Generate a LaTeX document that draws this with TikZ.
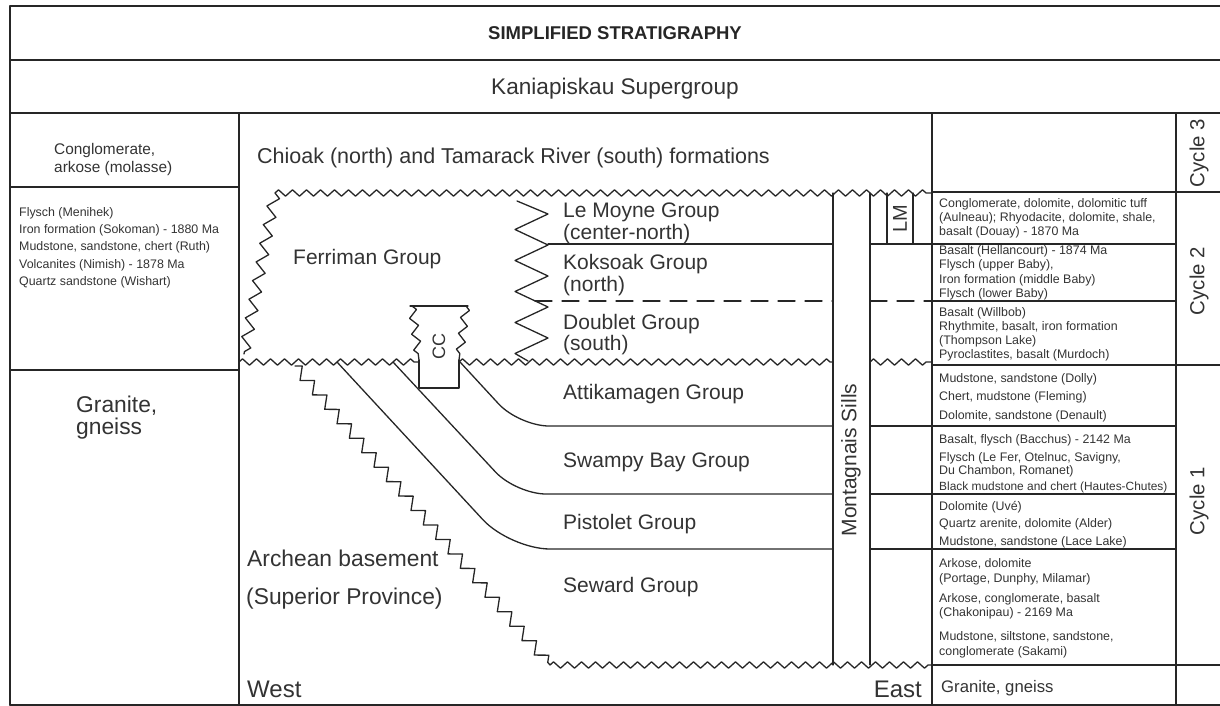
\documentclass[tikz,border=0pt]{standalone}
\usepackage{fontspec}
\setmainfont{Liberation Sans}
\usetikzlibrary{decorations.pathmorphing}
\begin{document}
\begin{tikzpicture}[x=1pt, y=-1pt, line join=round, line cap=round]
	\tikzset{
		frame/.style={line width=1.7pt, black!85},
		rule/.style={line width=1.3pt, black!85},
		wavy/.style={rule, decorate, decoration={zigzag, segment length=14, amplitude=3.2}},
		teeth/.style={rule, decorate, decoration={zigzag, segment length=19, amplitude=5.5}},
		lbl/.style={inner sep=0pt, text=black!80, anchor=base west},
		grp/.style={lbl, font=\fontsize{21}{24}\selectfont},
		big/.style={lbl, font=\fontsize{22.8}{26}\selectfont},
		note/.style={lbl, font=\fontsize{12.4}{14}\selectfont},
		vert/.style={inner sep=0pt, text=black!80, rotate=90}
	}
	\useasboundingbox (0,0) rectangle (1220,706);
	% frame and columns
	\draw[frame] (10,705) -- (10,6) -- (1221,6);
	\foreach \y in {60,113,705} \draw[frame] (10,\y) -- (1221,\y);
	\foreach \x in {239,932,1176} \draw[frame] (\x,113) -- (\x,705);
	\foreach \y in {187,370} \draw[frame] (10,\y) -- (239,\y);
	\foreach \y in {192,365,665} \draw[frame] (932,\y) -- (1221,\y);
	\foreach \y in {244,301,426,494,549} \draw[frame] (932,\y) -- (1176,\y);
	% unconformities
	\draw[wavy] (275,193) -- (932,193);
	\draw[teeth] (275,193) -- (244,354);
	\draw[wavy] (239,362) -- (419,362);
	\draw[wavy] (459,362) -- (833,362);
	\draw[wavy] (870,362) -- (932,362);
	\draw[wavy] (550,665) -- (932,665);
	\draw[teeth] (295,366) -- (550,665);
	\foreach \x in {833,870} \draw[rule] (\x,193) -- (\x,665);
	\foreach \x in {887,913} \draw[rule] (\x,193) -- (\x,244);
	\draw[rule] (517,201) -- (548,214) -- (515,229.5) -- (548,245) -- (515,260.5) -- (548,276) -- (515,291.5) -- (548,307) -- (515,322.5) -- (548,338) -- (515,353.5) -- (528,361);
	\draw[rule] (548,244) -- (833,244) (870,244) -- (932,244);
	\draw[rule, dash pattern=on 17pt off 10pt] (535,301) -- (833,301) (870,301) -- (932,301);
	\draw[rule, rounded corners=30pt] (460,362) -- (519,426) -- (833,426);
	\draw[rule, rounded corners=30pt] (393,362) -- (516,494) -- (833,494);
	\draw[rule, rounded corners=40pt] (337,362) -- (510,549) -- (833,549);
	\foreach \y in {426,494,549} \draw[rule] (870,\y) -- (932,\y);
	% CC
	\draw[rule] (410,306) -- (468,306);
	\draw[rule, decorate, decoration={zigzag, segment length=16, amplitude=4}] (412,306) -- (419,360);
	\draw[rule, decorate, decoration={zigzag, segment length=16, amplitude=4}] (466,306) -- (459,360);
	\draw[rule] (419,360) -- (419,388) -- (459,388) -- (459,360);
	% texts
	\node[inner sep=0pt, anchor=base, text=black!85, font=\bfseries\fontsize{18.5}{22}\selectfont] (title) at (615,40) {SIMPLIFIED STRATIGRAPHY};
	\node[inner sep=0pt, anchor=base, text=black!80, font=\fontsize{22.6}{26}\selectfont] (kania) at (615,95) {Kaniapiskau Supergroup};
	\node[lbl, font=\fontsize{15.4}{17}\selectfont] (molasse) at (54,154.5) {Conglomerate,};
	\node[lbl, font=\fontsize{15.4}{17}\selectfont] (molasseb) at (54,172) {arkose (molasse)};
	\foreach \t [count=\i] in {Flysch (Menihek), Iron formation (Sokoman) - 1880 Ma, {Mudstone, sandstone, chert (Ruth)}, Volcanites (Nimish) - 1878 Ma, Quartz sandstone (Wishart)}
		\node[note, name=fl\i] at (19,{216.5+17.2*(\i-1)}) {\t};
	\node[big] (granite) at (76,412) {Granite,};
	\node[big] (gneiss) at (76,434) {gneiss};
	\node[grp, font=\fontsize{21.5}{24}\selectfont] (chioak) at (257,164) {Chioak (north) and Tamarack River (south) formations};
	\node[grp] (ferriman) at (293,264.6) {Ferriman Group};
	\node[grp] (lemoyne) at (563,217.5) {Le Moyne Group};
	\node[grp] (lemoyneb) at (563,239.5) {(center-north)};
	\node[grp] (koksoak) at (563,269.5) {Koksoak Group};
	\node[grp] (koksoakb) at (563,291.5) {(north)};
	\node[grp] (doublet) at (563,329.5) {Doublet Group};
	\node[grp] (doubletb) at (563,350.5) {(south)};
	\node[grp] (attik) at (563,399.5) {Attikamagen Group};
	\node[grp] (swampy) at (563,467.5) {Swampy Bay Group};
	\node[grp] (pistolet) at (563,529.5) {Pistolet Group};
	\node[grp] (seward) at (563,592.5) {Seward Group};
	\node[big] (archean) at (247,566) {Archean basement};
	\node[big] (superior) at (246,604) {(Superior Province)};
	\node[lbl, font=\fontsize{24}{26}\selectfont] (west) at (247,697) {West};
	\node[lbl, anchor=base east, font=\fontsize{24}{26}\selectfont] (east) at (922,697) {East};
	\node[vert, font=\fontsize{21}{24}\selectfont] (sills) at (851,460) {Montagnais Sills};
	\node[vert, font=\fontsize{20}{22}\selectfont] (lm) at (900,219) {LM};
	\node[vert, font=\fontsize{18}{20}\selectfont] (cc) at (439,346) {CC};
	\node[vert, font=\fontsize{20.4}{22}\selectfont] (cyc3) at (1199,153) {Cycle 3};
	\node[vert, font=\fontsize{20.4}{22}\selectfont] (cyc2) at (1199,281) {Cycle 2};
	\node[vert, font=\fontsize{20.4}{22}\selectfont] (cyc1) at (1199,501) {Cycle 1};
	\foreach \yb/\t [count=\i] in {207.5/{Conglomerate, dolomite, dolomitic tuff}, 221.5/{(Aulneau); Rhyodacite, dolomite, shale,}, 235.5/{basalt (Douay) - 1870 Ma},
		254.5/{Basalt (Hellancourt) - 1874 Ma}, 268.5/{Flysch (upper Baby),}, 283.5/{Iron formation (middle Baby)}, 297.5/{Flysch (lower Baby)},
		316.5/{Basalt (Willbob)}, 330.5/{Rhythmite, basalt, iron formation}, 344.5/{(Thompson Lake)}, 358.5/{Pyroclastites, basalt (Murdoch)},
		382.5/{Mudstone, sandstone (Dolly)}, 400.5/{Chert, mudstone (Fleming)}, 419.5/{Dolomite, sandstone (Denault)},
		443.5/{Basalt, flysch (Bacchus) - 2142 Ma}, 461.5/{Flysch (Le Fer, Otelnuc, Savigny,}, 474.5/{Du Chambon, Romanet)}, 490.5/{\fontsize{11.9}{14}\selectfont Black mudstone and chert (Hautes-Chutes)},
		510.5/{Dolomite (Uvé)}, 527.5/{Quartz arenite, dolomite (Alder)}, 545.5/{Mudstone, sandstone (Lace Lake)},
		567.5/{Arkose, dolomite}, 582.5/{(Portage, Dunphy, Milamar)}, 602.5/{Arkose, conglomerate, basalt}, 616.5/{(Chakonipau) - 2169 Ma},
		640.5/{Mudstone, siltstone, sandstone,}, 655.5/{conglomerate (Sakami)}}
		\node[note, name=rc\i] at (939,\yb) {\t};
	\node[lbl, font=\fontsize{16.7}{19}\selectfont] (granr) at (941,692) {Granite, gneiss};
\end{tikzpicture}
\end{document}
